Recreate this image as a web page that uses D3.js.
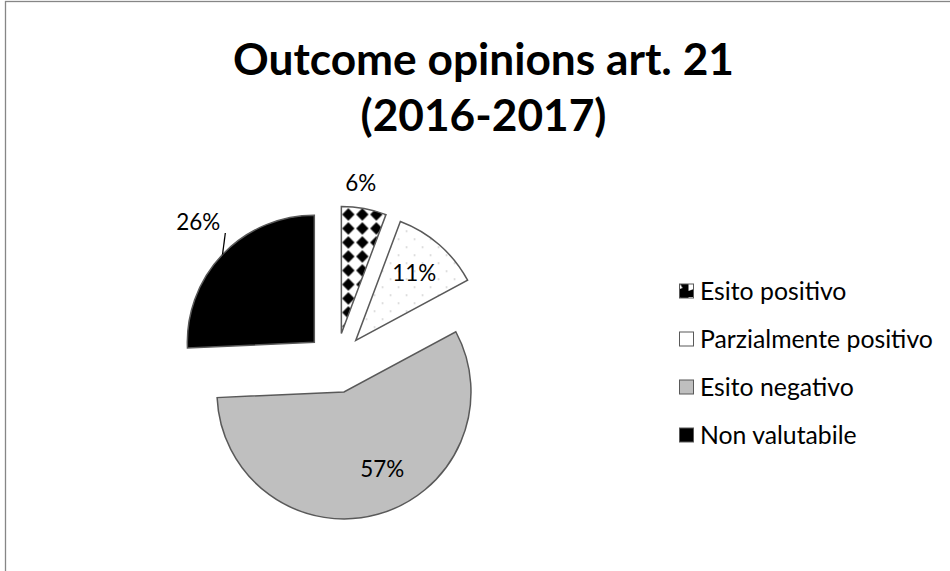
<!DOCTYPE html>
<html>
<head>
<meta charset="utf-8">
<script src="https://cdn.jsdelivr.net/npm/d3@7"></script>
<style>
  body { margin: 0; background: #fff; }
  text { font-family: Lato, "Open Sans", sans-serif; fill: #000; }
</style>
</head>
<body>
<svg width="950" height="571"></svg>
<script>
var svg = d3.select("svg"),
    width = +svg.attr("width"),
    height = +svg.attr("height");

// data (counts giving 6 / 11 / 57 / 26 %)
var categories = ["Esito positivo", "Parzialmente positivo", "Esito negativo", "Non valutabile"];
var counts = [6, 12, 60, 27];
var labels = ["6%", "11%", "57%", "26%"];
var titleLines = ["Outcome opinions art. 21", "(2016-2017)"];

// where each label sits (distance from slice centre, angle nudge in degrees)
var labelRadius = [152, 89, 86, 167];
var labelNudge = [-3, 0, -11, 2.3];

var cx = 336, cy = 363, r = 127, explode = 30;

var defs = svg.append("defs");

// black diamonds on white
var p1 = defs.append("pattern").attr("id", "diamonds")
    .attr("patternUnits", "userSpaceOnUse").attr("width", 14).attr("height", 14);
p1.append("rect").attr("width", 14).attr("height", 14).attr("fill", "#fff");
p1.append("path").attr("d", "M7,0.8 L13.2,7 L7,13.2 L0.8,7 Z").attr("fill", "#000");

// small grey dots on white
var p2 = defs.append("pattern").attr("id", "dots")
    .attr("patternUnits", "userSpaceOnUse").attr("width", 16).attr("height", 16);
p2.append("rect").attr("width", 16).attr("height", 16).attr("fill", "#fff");
p2.append("rect").attr("x", 2).attr("y", 2).attr("width", 1.5).attr("height", 1.5).attr("fill", "#c8c8c8");
p2.append("rect").attr("x", 10).attr("y", 10).attr("width", 1.5).attr("height", 1.5).attr("fill", "#c8c8c8");

// small legend version of the diamonds
var p3 = defs.append("pattern").attr("id", "diamondsSmall")
    .attr("patternUnits", "userSpaceOnUse").attr("width", 14).attr("height", 14)
    .attr("x", 679.5).attr("y", 284);
p3.append("rect").attr("width", 14).attr("height", 14).attr("fill", "#000");
p3.append("path").attr("d", "M2,2 L7,2 L10,7 L2,10 Z").attr("fill", "#fff");

var fills = ["url(#diamonds)", "url(#dots)", "#bfbfbf", "#000"];
var legendFills = ["url(#diamondsSmall)", "#fff", "#bfbfbf", "#000"];

// chart frame
svg.append("rect")
    .attr("x", 5.5).attr("y", 1.5)
    .attr("width", 1000).attr("height", 700)
    .attr("fill", "#fff")
    .attr("stroke", "#868686")
    .attr("stroke-width", 1.3);

// fit a text element to a given width
function fit(sel, target) {
    var fs = parseFloat(sel.attr("font-size"));
    var w = sel.node().getComputedTextLength();
    sel.attr("font-size", (fs * target / w).toFixed(2));
}

// title
var title = svg.append("g").attr("class", "title");
var t1 = title.append("text")
    .attr("x", 483.5).attr("y", 75)
    .attr("text-anchor", "middle")
    .attr("font-weight", "bold")
    .attr("font-size", 44)
    .text(titleLines[0]);
fit(t1, 501);
title.append("text")
    .attr("x", 483.5).attr("y", 131)
    .attr("text-anchor", "middle")
    .attr("font-weight", "bold")
    .attr("font-size", t1.attr("font-size"))
    .text(titleLines[1]);

// pie
var pie = d3.pie().sort(null).startAngle(0).endAngle(2 * Math.PI);
var arcs = pie(counts);
var arc = d3.arc().innerRadius(0).outerRadius(r);

function mid(d) { return (d.startAngle + d.endAngle) / 2; }
function shift(d) {
    var a = mid(d);
    return [explode * Math.sin(a), -explode * Math.cos(a)];
}

var slices = svg.append("g")
    .attr("transform", "translate(" + cx + "," + cy + ")")
    .selectAll(".slice")
    .data(arcs)
    .enter().append("g")
    .attr("class", "slice")
    .attr("transform", function(d) { var s = shift(d); return "translate(" + s[0] + "," + s[1] + ")"; });

slices.append("path")
    .attr("d", arc)
    .attr("fill", function(d, i) { return fills[i]; })
    .attr("stroke", "#595959")
    .attr("stroke-width", 1.5)
    .attr("stroke-linejoin", "miter");

// data labels
var dl = slices.append("text")
    .attr("text-anchor", "middle")
    .attr("dy", "0.35em")
    .attr("font-size", 22)
    .attr("x", function(d, i) { return labelRadius[i] * Math.sin(mid(d) + labelNudge[i] * Math.PI / 180); })
    .attr("y", function(d, i) { return -labelRadius[i] * Math.cos(mid(d) + labelNudge[i] * Math.PI / 180); })
    .text(function(d, i) { return labels[i]; });
fit(d3.select(dl.nodes()[2]), 44);
dl.attr("font-size", d3.select(dl.nodes()[2]).attr("font-size"));

// leader line for the outside label of the last slice
slices.filter(function(d, i) { return i === 3; }).each(function(d, i) {
    var g = d3.select(this);
    var a = mid(d);
    var lab = g.select("text");
    var bb = lab.node().getBBox();
    g.insert("line", "text")
        .attr("x1", r * Math.sin(a)).attr("y1", -r * Math.cos(a))
        .attr("x2", bb.x + bb.width + 5).attr("y2", bb.y + bb.height - 2)
        .attr("stroke", "#000")
        .attr("stroke-width", 1.3);
});

// legend
var legend = svg.append("g").attr("class", "legend")
    .selectAll(".item")
    .data(categories)
    .enter().append("g")
    .attr("class", "item")
    .attr("transform", function(d, i) { return "translate(679," + (291 + i * 48) + ")"; });

legend.append("rect")
    .attr("x", 0.5).attr("y", -7)
    .attr("width", 14).attr("height", 14)
    .attr("fill", function(d, i) { return legendFills[i]; })
    .attr("stroke", "#595959")
    .attr("stroke-width", 1);

var lt = legend.append("text")
    .attr("x", 21)
    .attr("dy", "0.35em")
    .attr("font-size", 22)
    .text(function(d) { return d; });
fit(d3.select(lt.nodes()[1]), 233);
lt.attr("font-size", d3.select(lt.nodes()[1]).attr("font-size"));
</script>
</body>
</html>
